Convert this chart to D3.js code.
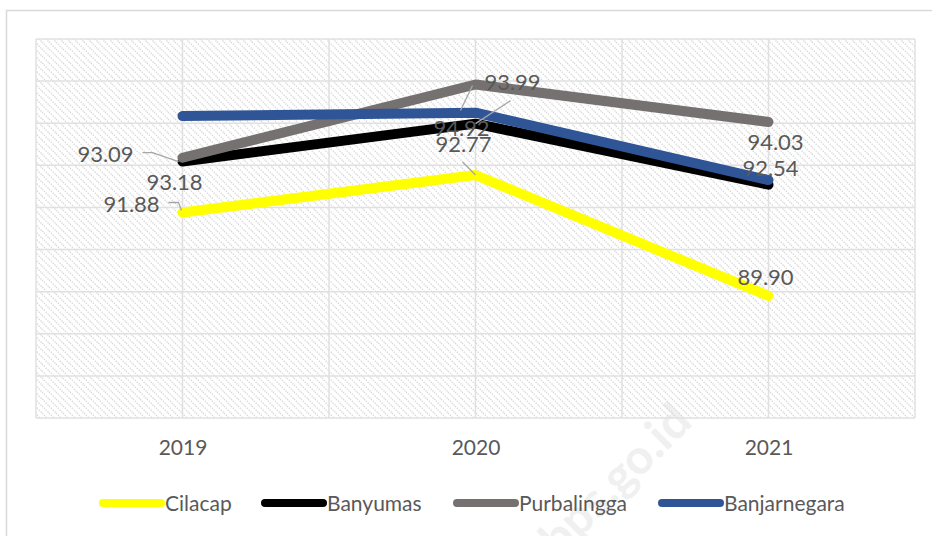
<!DOCTYPE html>
<html>
<head>
<meta charset="utf-8">
<script src="https://cdn.jsdelivr.net/npm/d3@7"></script>
<style>
  body { margin: 0; background: #fff; }
  text { font-family: Lato, "Open Sans", sans-serif; fill: #595959; }
</style>
</head>
<body>
<svg id="chart" width="932" height="536"></svg>
<script>
// data
var years = ['2019', '2020', '2021'];
var cilacap = [91.88, 92.77, 89.90];
var banyumas = [93.09, 93.99, 92.54];
var purbalingga = [93.18, 94.92, 94.03];
var banjarnegara = [94.17, 94.25, 92.65];
var yTicks = [87, 88, 89, 90, 91, 92, 93, 94, 95, 96];

var series = [
  { name: 'Cilacap', values: cilacap, color: '#ffff00', labels: true },
  { name: 'Banyumas', values: banyumas, color: '#000000', labels: true },
  { name: 'Purbalingga', values: purbalingga, color: '#767171', labels: true },
  { name: 'Banjarnegara', values: banjarnegara, color: '#2f5597', labels: false }
];

// label placement (offset of text centre / baseline from the point) + leader lines
var labelPos = {
  'Cilacap':     [[-51, 0, [[-14, -10], [-4, -10], [-1, -2]]], [-12, -23, [[-13, -13], [0, 0]]], [-3, -11]],
  'Banyumas':    [[-77, 0, [[-40, -9], [-30, -9], [-4, 0]]], [37, -34, [[35, -23], [0, 0]]], [2, -9]],
  'Purbalingga': [[-8, 32], [-14, 52, [[-15, 26], [-3, 1]]], [7, 28]]
};

var svg = d3.select('#chart');
var margin = { left: 36, top: 39, right: 915, bottom: 418 };

var x = d3.scaleLinear().domain([-0.5, 2.5]).range([margin.left, margin.right]);
var y = d3.scaleLinear().domain([87, 96]).range([margin.bottom, margin.top]);

// outer frame
svg.append('rect')
  .attr('x', 6.5).attr('y', 10.5).attr('width', 940).attr('height', 540)
  .attr('fill', 'none').attr('stroke', '#d9d9d9').attr('stroke-width', 1.5);

// watermark
svg.append('text')
  .attr('transform', 'translate(694,424) rotate(-45)')
  .attr('text-anchor', 'end')
  .style('font-family', 'Lato, sans-serif')
  .style('font-weight', 'bold')
  .style('font-size', '48px')
  .style('fill', '#f0f0f0')
  .text('jateng.bps.go.id');

var defs = svg.append('defs');
var pat = defs.append('pattern')
  .attr('id', 'hatch').attr('patternUnits', 'userSpaceOnUse')
  .attr('width', 7).attr('height', 7);
pat.append('path')
  .attr('d', 'M0,0 L7,7 M-1,6 L1,8 M6,-1 L8,1')
  .attr('stroke', '#d9d9d9').attr('stroke-width', 1.4)
  .attr('stroke-dasharray', '1.4,1.2');

svg.append('rect')
  .attr('x', margin.left).attr('y', margin.top)
  .attr('width', margin.right - margin.left).attr('height', margin.bottom - margin.top)
  .attr('fill', 'url(#hatch)');

// gridlines
svg.append('g').selectAll('line').data(yTicks).enter().append('line')
  .attr('x1', margin.left).attr('x2', margin.right)
  .attr('y1', function(d) { return y(d); }).attr('y2', function(d) { return y(d); })
  .attr('stroke', '#e0e0e0').attr('stroke-width', 1.5);

svg.append('g').selectAll('line').data(d3.range(-0.5, 2.6, 0.5)).enter().append('line')
  .attr('x1', function(d) { return x(d); }).attr('x2', function(d) { return x(d); })
  .attr('y1', margin.top).attr('y2', margin.bottom)
  .attr('stroke', '#e0e0e0').attr('stroke-width', 1.5);

// x axis labels
var xAxis = d3.axisBottom(x).tickValues([0, 1, 2])
  .tickFormat(function(d) { return years[d]; }).tickSize(0).tickPadding(22);
svg.append('g').attr('transform', 'translate(0,' + margin.bottom + ')').call(xAxis)
  .call(function(g) { g.select('.domain').remove(); })
  .selectAll('text').style('font-size', '21px').style('fill', '#595959')
  .style('font-family', 'Lato, "Open Sans", sans-serif');

// lines
var line = d3.line()
  .x(function(d, i) { return x(i); })
  .y(function(d) { return y(d); });

svg.append('g').selectAll('path').data(series).enter().append('path')
  .attr('d', function(d) { return line(d.values); })
  .attr('fill', 'none')
  .attr('stroke', function(d) { return d.color; })
  .attr('stroke-width', 10)
  .attr('stroke-linecap', 'round')
  .attr('stroke-linejoin', 'round');

// data labels
var lg = svg.append('g');
series.forEach(function(s) {
  if (!s.labels) return;
  s.values.forEach(function(v, i) {
    var p = labelPos[s.name][i];
    var px = x(i), py = y(v);
    if (p[2]) {
      lg.append('path')
        .attr('d', d3.line()(p[2].map(function(q) { return [px + q[0], py + q[1]]; })))
        .attr('fill', 'none').attr('stroke', '#a6a6a6').attr('stroke-width', 1.3);
    }
    lg.append('text')
      .attr('x', px + p[0]).attr('y', py + p[1])
      .attr('text-anchor', 'middle')
      .style('font-size', '22px')
      .text(v.toFixed(2));
  });
});

// legend
var legendX = [103, 265, 457, 662];
var legend = svg.append('g').selectAll('g').data(series).enter().append('g')
  .attr('transform', function(d, i) { return 'translate(' + legendX[i] + ',503)'; });
legend.append('line')
  .attr('x1', 0).attr('x2', 58).attr('y1', 0).attr('y2', 0)
  .attr('stroke', function(d) { return d.color; })
  .attr('stroke-width', 8).attr('stroke-linecap', 'round');
legend.append('text')
  .attr('x', 62).attr('y', 8)
  .style('font-size', '21px')
  .text(function(d) { return d.name; });
</script>
</body>
</html>
